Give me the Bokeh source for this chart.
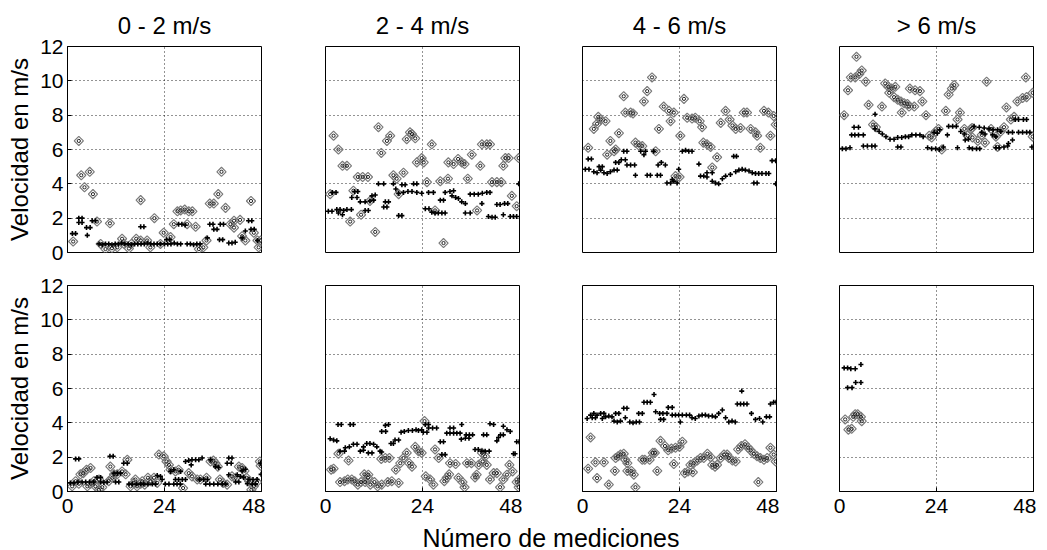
import math
from bokeh.plotting import figure
from bokeh.layouts import column, row
from bokeh.models import Range1d, Div, Spacer, FixedTicker
from bokeh.embed import file_html
from bokeh.resources import INLINE

FONT = "Liberation Sans"

titles = ["0 - 2 m/s", "2 - 4 m/s", "4 - 6 m/s", "> 6 m/s"]
x_ticks = [0, 24, 48]
y_ticks = [0, 2, 4, 6, 8, 10, 12]
y_label = "Velocidad en m/s"
x_label = "Número de mediciones"

# ---- top row: black crosses (b) and grey diamonds (g), (measurement, m/s)
b1 = [(1.2,1.1),(2.0,1.1),(2.8,1.75),(3.6,1.75),(2.8,2.0),(3.6,2.0),(4.7,1.45),(5.6,1.45),(4.9,1.0),(6.1,1.85),(6.9,1.85),
      (7.8,0.5),(8.6,0.45),(9.4,0.5),(10.2,0.5),(11.0,0.45),(11.8,0.5),(12.6,0.5),(13.4,0.55),(14.2,0.5),(15.0,0.5),(15.8,0.45),
      (16.6,0.5),(17.4,0.5),(18.2,0.5),(19.0,0.5),(19.8,0.55),(20.6,0.5),(21.4,0.5),(22.2,0.5),(23.0,0.5),
      (18.1,1.5),(18.9,1.5),(24.5,0.75),(25.3,0.75),(24.0,0.5),(24.8,0.5),(25.6,0.5),(26.4,0.55),(27.2,0.5),(28.0,0.5),
      (29.6,0.5),(30.4,0.5),(31.2,0.45),(32.0,0.5),(32.8,0.5),(27.5,1.65),(28.3,1.65),(29.1,1.6),
      (34.6,0.85),(35.2,1.65),(36.0,1.65),(36.2,1.35),(37.0,1.35),(37.8,1.65),(38.6,1.65),(37.6,0.75),(38.4,0.75),
      (39.9,0.55),(40.7,0.55),(41.5,0.6),(43.2,0.85),(44.8,1.85),(45.6,1.85),(44.0,1.25),(45.4,1.35),(46.2,1.35),(47.0,0.7)]
g1 = [(1.4,0.64),(2.8,6.5),(3.4,4.5),(5.5,4.7),(4.2,3.8),(6.3,3.4),(7.3,1.8),(10.5,1.7),(8.2,0.5),(9.4,0.2),
      (11.0,0.25),(12.3,0.3),(13.5,0.8),(14.0,0.5),(15.2,0.23),(15.8,0.5),(17.0,0.8),(18.1,3.05),(18.1,0.7),(19.7,0.7),
      (20.5,0.3),(21.5,2.0),(23.0,0.5),(23.8,1.15),(25.5,0.9),(26.3,1.65),(27.2,2.4),(28.0,2.45),(29.0,2.5),(30.0,2.4),
      (30.9,2.4),(29.6,1.65),(31.7,1.5),(32.5,0.2),(33.6,0.3),(34.4,0.7),(35.2,2.85),(36.2,2.85),(37.3,3.4),(38.1,4.7),
      (39.1,2.6),(40.3,1.65),(41.2,1.85),(42.7,1.9),(41.2,1.45),(43.2,0.95),(44.0,0.7),(45.4,3.0),(46.1,1.15),(47.3,0.3),
      (47.8,0.7),(47.0,0.7)]

b2 = [(0.7,2.4),(1.6,2.4),(1.7,3.5),(2.6,3.5),(2.8,2.5),(3.6,2.5),(4.5,2.45),(5.3,2.5),(6.4,2.5),(3.2,2.3),(4.2,2.2),
      (7.2,3.55),(8.0,3.55),(6.5,3.2),(7.8,3.2),(8.6,2.95),(9.8,2.95),(11.0,3.0),(11.9,3.05),(11.5,3.3),(12.3,3.35),
      (9.8,2.45),(10.6,2.45),(13.1,4.0),(14.4,4.0),(16.8,4.0),(18.9,3.95),(19.7,3.95),(21.8,4.0),(22.6,4.0),(14.8,2.95),
      (15.6,2.95),(14.4,2.65),(15.2,2.65),(17.4,3.7),(18.1,3.45),(19.3,3.5),(20.4,3.55),(21.4,3.55),(22.6,3.5),(23.8,3.45),
      (18.1,2.15),(18.9,2.15),(24.7,2.55),(25.6,2.55),(25.5,3.5),(26.7,3.5),(26.3,2.35),(27.1,2.3),(27.9,2.3),(28.8,2.3),
      (29.6,2.3),(28.4,3.05),(29.2,3.05),(29.6,3.5),(30.8,3.55),(31.7,3.6),(31.3,3.3),(32.2,3.2),(32.9,3.15),(33.7,2.95),
      (34.6,2.85),(34.6,2.3),(35.8,2.3),(35.8,3.4),(36.8,3.4),(37.8,3.4),(38.8,3.45),(39.9,3.5),(40.7,3.5),(38.7,2.85),
      (40.3,2.1),(41.2,2.05),(42.0,2.05),(42.4,2.8),(43.2,2.8),(44.3,2.85),(45.1,2.85),(44.0,2.2),(45.7,2.1),(46.5,2.1),
      (47.3,2.1),(47.8,4.0)]
g2 = [(1.15,3.4),(2.0,6.8),(3.2,6.0),(4.2,5.05),(5.3,5.05),(6.9,3.6),(8.0,4.4),(9.2,4.4),(10.5,4.4),(6.1,1.8),(8.8,2.2),
      (11.0,3.0),(12.3,1.2),(13.1,7.3),(13.8,5.8),(15.2,6.5),(16.0,6.8),(16.8,4.5),(18.1,3.4),(17.6,4.3),(19.3,4.65),
      (20.1,6.6),(21.4,6.9),(22.2,6.65),(20.9,7.0),(22.6,5.25),(23.8,5.5),(24.3,5.25),(25.1,4.1),(26.3,6.3),(27.1,2.45),
      (28.4,4.15),(29.2,0.55),(30.3,4.3),(30.4,5.25),(31.7,5.15),(32.8,5.45),(33.7,5.25),(34.4,5.15),(35.2,4.3),(36.2,5.7),
      (37.5,2.45),(38.3,5.05),(38.7,6.3),(39.9,6.3),(40.7,6.3),(41.2,4.1),(42.4,4.1),(43.5,4.1),(44.0,5.05),(44.5,5.5),
      (45.3,5.5),(46.1,3.3),(47.3,2.7),(47.8,5.5)]

b3 = [(0.7,4.85),(1.6,4.85),(1.4,5.45),(2.2,5.45),(2.8,4.7),(3.6,4.65),(4.5,4.8),(5.3,4.65),(6.1,4.6),(6.9,4.7),(4.1,5.0),
      (4.9,5.0),(7.8,4.8),(8.6,4.8),(8.2,5.25),(9.0,5.25),(9.6,5.4),(10.6,5.4),(10.2,5.9),(11.0,5.9),(11.0,5.1),(11.9,5.1),
      (12.9,5.1),(13.1,4.5),(14.4,5.9),(15.2,5.7),(15.6,5.9),(16.0,4.5),(16.8,4.5),(17.6,5.9),(18.7,5.1),(19.5,5.25),
      (20.5,5.1),(18.5,4.5),(19.3,4.5),(20.9,4.05),(21.8,4.05),(22.6,4.15),(23.4,4.05),(22.2,4.25),(23.8,4.85),(24.7,5.9),
      (25.5,5.95),(26.3,5.9),(27.1,5.9),(28.8,5.15),(29.2,4.45),(30.0,4.45),(30.8,4.4),(30.8,4.65),(32.1,4.65),(32.1,4.15),
      (32.9,4.05),(33.7,4.0),(34.6,4.3),(35.4,4.45),(36.6,4.55),(37.9,4.7),(38.7,4.8),(39.5,4.85),(40.3,4.8),(41.2,4.75),
      (42.0,4.65),(42.8,4.6),(43.6,4.6),(44.4,4.6),(45.4,4.6),(46.1,4.6),(37.4,5.6),(38.1,5.6),(42.4,4.05),(43.2,4.05),
      (46.9,5.35),(47.8,5.35),(47.8,4.0)]
g3 = [(1.4,6.1),(2.8,7.2),(3.6,7.5),(4.5,7.75),(5.7,7.65),(3.9,7.9),(6.9,6.5),(6.1,5.7),(7.8,5.9),(8.2,6.0),(9.0,6.95),
      (10.2,9.1),(10.6,8.15),(11.9,8.15),(12.5,8.1),(13.1,6.4),(13.9,6.25),(14.8,6.2),(15.2,8.8),(16.0,9.4),(17.2,10.2),
      (18.1,5.9),(18.9,7.2),(20.1,8.5),(21.4,8.25),(22.6,8.15),(21.8,7.65),(23.0,4.45),(24.0,4.4),(24.2,6.8),(25.1,8.95),
      (25.9,7.85),(27.1,7.8),(27.9,7.85),(29.0,7.65),(29.6,7.3),(29.9,6.4),(30.8,6.3),(31.7,6.15),(33.3,5.55),(32.1,4.95),
      (34.2,7.55),(35.4,8.25),(36.4,7.75),(37.1,7.4),(37.9,7.2),(39.1,7.25),(39.9,8.15),(40.7,8.15),(41.6,7.2),(42.8,7.0),
      (43.2,6.8),(44.0,6.1),(44.9,8.25),(46.0,8.15),(47.3,7.95),(46.5,6.8),(47.8,7.45)]

b4 = [(0.7,6.05),(1.6,6.05),(2.6,6.1),(3.0,6.85),(3.8,6.85),(4.7,6.85),(5.9,6.85),(3.6,7.3),(4.7,7.3),(5.9,6.2),(6.9,6.2),
      (8.0,6.2),(8.8,6.2),(8.8,8.05),(8.8,7.2),(9.8,7.05),(10.6,6.9),(11.5,6.75),(12.5,6.6),(13.5,6.6),(14.4,6.7),(15.4,6.7),
      (16.3,6.75),(17.1,6.75),(17.9,6.85),(18.9,6.85),(19.9,6.85),(20.7,6.75),(14.4,6.15),(15.2,6.15),(21.8,6.1),(22.8,6.05),
      (23.8,6.05),(24.7,6.0),(25.7,6.15),(23.4,7.0),(24.2,6.95),(24.8,7.15),(26.7,6.85),(27.0,7.35),(28.0,7.35),(28.9,7.35),
      (29.2,6.1),(30.0,7.05),(30.9,6.9),(31.1,6.55),(31.9,6.6),(32.1,6.1),(32.9,6.05),(33.9,6.05),(34.7,6.05),(33.3,7.35),
      (34.6,7.3),(35.8,7.25),(35.2,7.0),(36.0,6.9),(37.0,7.2),(38.0,7.15),(39.1,7.15),(39.9,7.05),(37.9,6.85),(38.7,6.75),
      (38.7,6.1),(39.5,6.1),(40.7,6.15),(41.6,6.2),(41.8,7.0),(42.8,7.0),(41.8,6.35),(42.8,6.55),(43.5,7.75),(44.3,7.75),
      (45.5,7.75),(46.3,7.75),(44.3,7.0),(45.3,7.0),(46.3,7.0),(47.1,7.0),(47.6,6.15)]
g4 = [(1.15,8.0),(2.1,9.45),(2.8,10.2),(4.2,11.4),(5.5,10.6),(3.9,10.2),(4.9,10.4),(6.5,9.95),(7.2,8.6),(8.3,7.45),(9.0,7.3),
      (10.5,8.5),(11.3,9.85),(12.1,9.65),(12.9,9.55),(13.8,9.65),(12.3,9.3),(13.5,9.05),(14.4,8.9),(15.2,8.8),(16.0,8.7),
      (16.8,8.65),(15.4,8.15),(17.2,8.5),(18.5,8.5),(17.4,9.55),(18.7,9.45),(19.9,9.4),(20.5,8.8),(21.4,8.0),(22.8,6.7),
      (23.8,7.05),(24.5,7.2),(22.2,6.8),(25.3,6.0),(26.3,8.25),(27.0,9.2),(27.8,9.55),(28.4,9.75),(29.2,7.75),(29.8,8.15),
      (30.9,7.2),(31.7,6.8),(32.5,7.2),(32.8,7.25),(32.9,6.7),(34.2,6.5),(35.2,6.85),(36.0,6.4),(36.4,9.95),(37.5,7.2),
      (38.7,6.75),(39.9,7.05),(39.1,6.15),(40.7,7.3),(41.3,8.45),(42.4,7.75),(43.2,7.9),(44.0,8.8),(45.3,9.0),(46.3,9.05),
      (47.8,9.3),(46.1,10.2),(47.8,6.75)]

# ---- bottom row
b5 = [(0.7,0.5),(1.6,0.5),(2.6,0.55),(3.6,0.55),(4.5,0.55),(5.5,0.55),(6.5,0.55),(2.0,1.9),(2.8,1.9),(7.3,0.82),(8.2,0.82),
      (8.2,0.55),(9.0,0.52),(9.8,0.55),(10.5,2.05),(11.3,2.05),(11.5,1.07),(12.3,1.07),(13.1,1.07),(11.9,0.55),(12.7,0.55),
      (13.9,1.65),(14.8,1.65),(15.2,0.43),(16.0,0.43),(17.1,0.43),(18.1,0.43),(18.9,0.43),(19.9,0.43),(21.0,0.43),(21.8,0.43),
      (22.2,0.93),(23.0,0.88),(23.4,0.7),(24.2,0.43),(25.1,0.43),(26.3,0.43),(27.1,0.43),(27.9,0.43),(26.7,0.7),(27.5,0.7),
      (28.4,0.7),(25.5,1.17),(26.3,1.27),(28.0,1.17),(29.2,1.75),(30.0,1.8),(30.8,1.85),(31.7,1.85),(32.5,1.85),(33.3,1.95),
      (30.6,1.55),(29.2,0.7),(32.7,0.7),(33.7,0.7),(34.6,0.7),(34.2,0.43),(35.2,0.43),(36.2,0.43),(37.2,0.43),(38.3,0.43),
      (39.1,0.43),(35.4,1.85),(36.6,1.45),(37.4,1.4),(39.9,1.95),(40.7,1.95),(39.5,1.65),(40.5,1.65),(39.9,0.98),(41.6,0.55),
      (42.4,0.55),(42.0,0.98),(42.8,0.88),(43.6,0.82),(43.2,1.2),(44.0,1.3),(44.9,0.7),(45.9,0.7),(46.9,0.7),(44.5,0.45),
      (45.7,0.43),(46.5,0.43),(47.8,1.65),(47.9,1.0)]
g5 = [(1.15,0.3),(2.0,0.6),(3.2,1.0),(3.9,1.07),(4.7,1.27),(5.7,1.37),(2.8,0.45),(4.9,0.3),(5.7,0.45),(6.5,0.6),(6.9,0.3),
      (7.8,0.1),(8.6,0.25),(7.8,0.7),(10.2,0.6),(11.1,0.8),(11.5,1.0),(10.6,1.45),(12.3,1.0),(13.5,1.17),(14.4,1.0),
      (14.8,1.85),(15.6,0.3),(16.4,0.5),(17.2,0.3),(18.1,0.45),(19.1,0.4),(16.8,0.7),(18.5,0.6),(19.9,0.8),(20.5,0.6),
      (21.4,0.8),(22.2,0.5),(22.6,2.15),(23.8,2.05),(24.5,1.75),(25.1,1.55),(25.5,1.27),(26.7,1.17),(27.5,1.27),(28.6,0.2),
      (30.0,1.07),(30.8,0.88),(32.1,0.7),(32.9,0.7),(34.4,0.8),(35.4,1.75),(36.1,1.8),(36.6,1.65),(37.2,1.45),(37.7,0.7),
      (38.5,0.5),(39.5,0.4),(40.7,0.88),(41.6,0.8),(42.4,1.45),(43.2,1.37),(43.8,1.2),(44.3,0.8),(44.9,0.6),(45.5,0.1),
      (46.1,0.3),(46.9,0.55),(47.6,1.75),(47.8,1.5)]

b6 = [(1.15,3.07),(2.0,3.0),(2.8,2.95),(3.1,3.9),(3.9,3.9),(3.6,2.35),(4.7,2.35),(4.9,2.55),(5.9,2.6),(6.1,3.9),(6.9,3.9),
      (6.9,2.75),(7.8,2.75),(8.6,2.35),(9.4,2.4),(9.4,2.6),(10.2,2.8),(11.0,2.8),(11.9,2.75),(10.6,2.25),(11.5,2.25),
      (12.7,2.6),(13.5,2.35),(13.9,2.3),(13.9,3.5),(14.9,3.5),(14.8,3.85),(15.6,3.9),(16.2,2.8),(16.8,2.8),(17.2,3.0),
      (18.1,3.0),(18.7,3.45),(19.5,3.5),(20.5,3.55),(21.5,3.55),(22.4,3.6),(23.0,3.55),(23.8,3.6),(24.2,3.45),(25.1,3.45),
      (24.7,3.9),(25.5,3.9),(25.5,3.7),(26.5,3.7),(27.5,3.7),(28.4,2.9),(29.2,2.9),(28.8,2.15),(29.6,2.15),(30.0,3.4),
      (30.8,3.4),(31.7,3.4),(32.5,3.4),(33.3,3.4),(30.8,3.7),(31.7,3.7),(33.7,3.9),(33.6,3.05),(34.6,3.1),(35.5,3.1),
      (34.8,3.3),(35.6,3.3),(36.4,3.3),(37.0,2.45),(37.8,2.45),(38.7,2.35),(39.5,2.35),(40.5,2.35),(39.1,3.3),(39.9,3.3),
      (40.7,3.95),(41.6,3.9),(42.4,2.95),(42.8,3.15),(43.3,3.3),(44.0,3.3),(44.0,3.8),(44.9,3.6),(45.7,3.5),(46.5,2.2),
      (46.9,2.2),(47.3,2.9),(47.9,2.9)]
g6 = [(1.4,1.27),(2.0,1.33),(3.2,2.2),(5.7,1.8),(3.6,0.55),(4.7,0.6),(5.5,0.7),(6.5,0.7),(7.2,0.6),(8.0,0.4),(8.8,0.55),
      (9.6,1.0),(9.8,0.55),(10.5,0.8),(11.1,0.4),(12.1,0.55),(12.9,0.3),(13.9,0.4),(15.4,0.55),(16.4,0.6),(18.1,0.5),
      (10.6,0.98),(13.8,1.9),(14.8,1.95),(15.8,1.95),(17.4,1.27),(18.5,1.65),(19.3,1.95),(20.1,2.25),(20.7,1.65),(21.4,1.45),
      (22.2,2.6),(23.0,2.35),(23.8,2.25),(24.5,4.1),(24.8,0.88),(25.9,0.7),(26.7,0.4),(27.1,2.45),(28.0,1.95),(29.4,0.6),
      (30.0,0.8),(30.6,1.0),(30.8,1.65),(32.2,1.6),(32.9,0.8),(33.9,0.55),(34.4,0.25),(35.0,1.65),(36.1,1.65),(37.0,0.82),
      (37.4,0.98),(37.9,1.55),(38.9,1.75),(39.5,2.05),(39.9,1.55),(38.7,2.25),(40.7,0.7),(41.6,1.07),(42.4,1.07),(43.2,0.25),
      (44.0,0.7),(44.9,0.98),(45.5,1.55),(46.3,1.17),(47.3,0.55),(47.8,0.25),(47.9,0.7)]

b7 = [(1.15,4.25),(2.0,4.45),(2.8,4.55),(3.6,4.45),(2.4,4.3),(3.2,4.3),(4.5,4.55),(5.3,4.55),(4.9,4.25),(5.7,4.35),(6.5,4.4),
      (7.3,4.35),(8.2,4.55),(9.0,4.55),(7.8,4.1),(8.6,4.05),(9.4,4.1),(10.2,4.85),(11.0,4.85),(10.6,4.3),(11.7,4.05),
      (12.5,4.0),(13.3,4.05),(14.1,4.05),(13.9,4.55),(14.8,4.55),(15.2,5.2),(16.0,5.2),(16.8,5.2),(17.7,5.65),(18.1,4.65),
      (19.1,4.55),(19.9,4.55),(20.9,4.55),(19.3,4.2),(20.1,4.2),(21.2,4.9),(22.2,4.9),(22.2,4.45),(23.0,4.45),(23.8,4.45),
      (24.7,4.45),(25.7,4.45),(26.5,4.45),(24.2,4.05),(27.1,4.3),(27.9,4.25),(28.8,4.4),(29.6,4.45),(30.4,4.45),(31.2,4.4),
      (32.1,4.4),(32.9,4.35),(33.7,4.55),(34.6,4.75),(35.4,4.3),(36.2,4.05),(37.0,4.1),(37.8,4.05),(38.3,5.1),(39.1,5.1),
      (39.9,5.1),(40.7,5.1),(39.4,5.85),(41.8,4.55),(42.8,4.2),(43.8,4.25),(44.6,4.05),(45.5,4.35),(46.3,4.35),(46.5,5.1),
      (47.3,5.2),(47.9,5.2)]
g7 = [(2.0,3.15),(1.4,1.33),(3.2,1.7),(3.6,0.78),(5.3,1.7),(6.5,0.4),(8.0,1.2),(8.2,1.95),(8.8,2.05),(9.4,2.15),(10.2,2.2),
      (10.6,1.85),(11.1,1.65),(11.1,1.2),(12.1,1.2),(12.7,0.98),(13.1,0.25),(14.8,1.85),(15.4,1.85),(16.6,1.85),(17.4,2.25),
      (17.9,2.25),(18.5,1.2),(19.3,2.95),(20.4,2.65),(21.2,2.4),(22.0,2.5),(22.6,1.6),(23.0,2.55),(24.0,2.6),(24.7,2.9),
      (25.3,1.07),(26.1,1.17),(26.7,1.55),(27.3,1.12),(27.5,1.65),(28.4,1.8),(29.2,1.95),(30.0,1.95),(30.9,2.2),(31.7,2.0),
      (32.1,1.55),(32.8,1.45),(33.3,1.55),(34.2,1.95),(35.0,2.15),(35.8,2.15),(36.2,1.95),(37.1,1.8),(37.9,1.75),(38.5,2.45),
      (39.3,2.65),(40.2,2.75),(41.0,2.55),(41.6,2.4),(42.4,2.2),(43.2,2.05),(43.5,0.55),(44.0,1.95),(44.9,1.85),(45.7,1.95),
      (46.5,2.55),(47.3,2.15),(47.8,1.75)]

b8 = [(1.15,7.2),(2.0,7.2),(2.8,7.15),(3.9,7.15),(5.3,7.4),(2.0,6.05),(3.1,6.05),(4.0,6.35),(5.3,6.35)]
g8 = [(1.4,4.2),(2.2,3.6),(3.0,3.65),(3.9,4.5),(4.5,4.5),(5.3,4.35),(5.5,4.1),(3.4,4.35)]

top_series = [(b1, g1), (b2, g2), (b3, g3), (b4, g4)]
bottom_series = [(b5, g5), (b6, g6), (b7, g7), (b8, g8)]

FRAME_W, FRAME_H = 194, 206


def make_panel(black, gray, col, top):
    bl = 67 if col == 0 else 60
    br = 4 if col == 0 else 3
    if top:
        bt, bb = 46, 17
    else:
        bt, bb = 16, 28
    p = figure(width=bl + FRAME_W + br, height=bt + FRAME_H + bb,
               x_range=Range1d(0, 48), y_range=Range1d(0, 12),
               output_backend="svg", toolbar_location=None, tools="",
               title=titles[col] if top else None,
               min_border_left=bl, min_border_right=br,
               min_border_top=bt, min_border_bottom=bb)
    p.background_fill_color = "white"
    p.border_fill_color = "white"
    p.outline_line_color = "black"
    p.outline_line_width = 1
    if top:
        p.title.align = "center"
        p.title.text_font = FONT
        p.title.text_font_size = "24px"
        p.title.text_font_style = "normal"
        p.title.text_color = "black"
        p.title.standoff = 16
    p.xaxis.ticker = x_ticks
    p.yaxis.ticker = y_ticks
    for ax in (p.xaxis, p.yaxis):
        ax.major_tick_in = 4
        ax.major_tick_out = 0
        ax.minor_tick_line_color = None
        ax.axis_line_color = "black"
        ax.major_tick_line_color = "black"
        ax.major_label_text_font = FONT
        ax.major_label_text_font_size = "21px"
        ax.major_label_text_color = "black"
    p.xaxis.major_label_standoff = 7
    p.yaxis.major_label_standoff = 4
    if top:
        p.xaxis.visible = False
    if col != 0:
        p.yaxis.visible = False
    else:
        p.yaxis.axis_label = y_label
        p.yaxis.axis_label_text_font = FONT
        p.yaxis.axis_label_text_font_size = "24px"
        p.yaxis.axis_label_text_font_style = "normal"
        p.yaxis.axis_label_text_color = "black"
        p.yaxis.axis_label_standoff = 4
    p.xgrid.ticker = FixedTicker(ticks=x_ticks)
    p.ygrid.ticker = FixedTicker(ticks=y_ticks)
    p.grid.grid_line_color = "black"
    p.grid.grid_line_dash = "1 3"
    p.grid.grid_line_alpha = 0.85
    p.grid.grid_line_width = 1

    bx = [v[0] for v in black]
    by = [v[1] for v in black]
    gx = [v[0] for v in gray]
    gy = [v[1] for v in gray]
    p.scatter(gx, gy, marker="square", angle=math.pi / 4, size=6.5,
              line_color="#7a7a7a", fill_color=None, line_width=1.2)
    p.scatter(gx, gy, marker="circle", size=3.2,
              line_color="#222222", fill_color=None, line_width=1)
    p.scatter(bx, by, marker="cross", size=5, line_color="black", line_width=1.6)
    return p


top_row = [make_panel(b, g, i, True) for i, (b, g) in enumerate(top_series)]
bottom_row = [make_panel(b, g, i, False) for i, (b, g) in enumerate(bottom_series)]

xlabel_div = Div(text=x_label, width=284, height=28,
                 styles={"font-family": FONT, "font-size": "25px", "line-height": "28px",
                         "text-align": "center", "white-space": "nowrap", "color": "black"})

layout = column(row(*top_row), row(*bottom_row), row(Spacer(width=404, height=28), xlabel_div))

open("out.html", "w").write(file_html(layout, INLINE, title="Velocidad"))
